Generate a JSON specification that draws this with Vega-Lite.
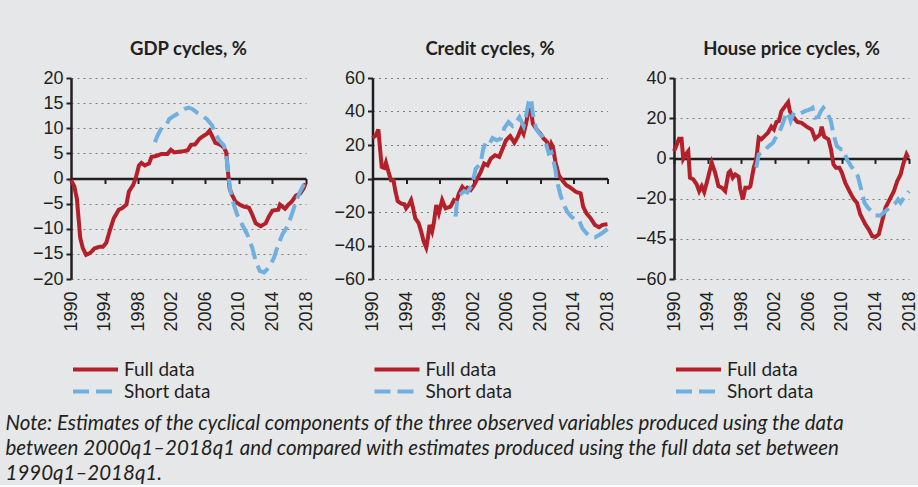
{
  "$schema": "https://vega.github.io/schema/vega-lite/v6.json",
  "background": "#e6e7e9",
  "padding": {"left": 5, "top": 39, "right": 0, "bottom": 0},
  "bounds": "flush",
  "spacing": 66.5,
  "title": {
    "text": ["Note: Estimates of the cyclical components of the three observed variables produced using the data", "between 2000q1–2018q1 and compared with estimates produced using the full data set between", "1990q1–2018q1."],
    "orient": "bottom", "anchor": "start", "frame": "group", "dx": -65.5, "font": "Lato", "fontStyle": "italic", "fontWeight": "normal",
    "fontSize": 20.5, "lineHeight": 25, "color": "#231f20", "offset": 12
  },
  "datasets": {
    "gdpFull": [
      {"s":"Full data","x":1990.0,"v":-0.3},{"s":"Full data","x":1990.4,"v":-1.6},{"s":"Full data","x":1990.7,"v":-4.0},{"s":"Full data","x":1990.9,"v":-7.9},{"s":"Full data","x":1991.1,"v":-11.8},{"s":"Full data","x":1991.4,"v":-13.8},{"s":"Full data","x":1991.8,"v":-15.2},{"s":"Full data","x":1992.3,"v":-14.8},{"s":"Full data","x":1992.8,"v":-13.9},{"s":"Full data","x":1993.4,"v":-13.6},{"s":"Full data","x":1993.8,"v":-13.6},{"s":"Full data","x":1994.2,"v":-12.8},{"s":"Full data","x":1994.6,"v":-10.5},{"s":"Full data","x":1995.1,"v":-7.9},{"s":"Full data","x":1995.7,"v":-6.2},{"s":"Full data","x":1996.1,"v":-5.9},{"s":"Full data","x":1996.6,"v":-5.2},{"s":"Full data","x":1996.9,"v":-2.6},{"s":"Full data","x":1997.4,"v":-1.3},{"s":"Full data","x":1997.7,"v":0.0},{"s":"Full data","x":1998.1,"v":2.6},{"s":"Full data","x":1998.4,"v":3.1},{"s":"Full data","x":1998.8,"v":2.6},{"s":"Full data","x":1999.3,"v":3.0},{"s":"Full data","x":1999.6,"v":4.3},{"s":"Full data","x":2000.2,"v":4.5},{"s":"Full data","x":2000.8,"v":4.9},{"s":"Full data","x":2001.5,"v":4.9},{"s":"Full data","x":2001.9,"v":5.7},{"s":"Full data","x":2002.3,"v":5.2},{"s":"Full data","x":2003.3,"v":5.4},{"s":"Full data","x":2003.9,"v":5.6},{"s":"Full data","x":2004.3,"v":6.7},{"s":"Full data","x":2004.8,"v":6.8},{"s":"Full data","x":2005.3,"v":7.9},{"s":"Full data","x":2005.8,"v":8.5},{"s":"Full data","x":2006.2,"v":8.9},{"s":"Full data","x":2006.5,"v":9.5},{"s":"Full data","x":2006.8,"v":8.5},{"s":"Full data","x":2007.2,"v":7.1},{"s":"Full data","x":2007.8,"v":6.7},{"s":"Full data","x":2008.2,"v":6.2},{"s":"Full data","x":2008.5,"v":5.2},{"s":"Full data","x":2008.7,"v":1.3},{"s":"Full data","x":2008.9,"v":-2.0},{"s":"Full data","x":2009.2,"v":-3.3},{"s":"Full data","x":2009.6,"v":-4.6},{"s":"Full data","x":2010.1,"v":-5.2},{"s":"Full data","x":2010.6,"v":-5.6},{"s":"Full data","x":2011.2,"v":-5.8},{"s":"Full data","x":2011.6,"v":-7.2},{"s":"Full data","x":2012.0,"v":-8.9},{"s":"Full data","x":2012.6,"v":-9.5},{"s":"Full data","x":2013.2,"v":-8.9},{"s":"Full data","x":2013.6,"v":-7.5},{"s":"Full data","x":2014.0,"v":-6.4},{"s":"Full data","x":2014.7,"v":-6.2},{"s":"Full data","x":2014.9,"v":-5.2},{"s":"Full data","x":2015.5,"v":-6.0},{"s":"Full data","x":2015.9,"v":-5.2},{"s":"Full data","x":2016.3,"v":-4.6},{"s":"Full data","x":2016.8,"v":-3.4},{"s":"Full data","x":2017.3,"v":-3.0},{"s":"Full data","x":2017.7,"v":-2.0},{"s":"Full data","x":2017.95,"v":-1.0}
    ],
    "gdpShort": [
      {"s":"Short data","x":2000.0,"v":7.2},{"s":"Short data","x":2000.3,"v":8.5},{"s":"Short data","x":2000.7,"v":9.8},{"s":"Short data","x":2001.3,"v":10.4},{"s":"Short data","x":2001.7,"v":11.8},{"s":"Short data","x":2002.3,"v":12.5},{"s":"Short data","x":2002.9,"v":13.1},{"s":"Short data","x":2003.5,"v":13.8},{"s":"Short data","x":2004.0,"v":14.1},{"s":"Short data","x":2004.5,"v":13.8},{"s":"Short data","x":2005.1,"v":13.0},{"s":"Short data","x":2005.6,"v":12.5},{"s":"Short data","x":2006.2,"v":11.8},{"s":"Short data","x":2006.8,"v":10.6},{"s":"Short data","x":2007.2,"v":8.9},{"s":"Short data","x":2007.7,"v":7.5},{"s":"Short data","x":2008.2,"v":6.6},{"s":"Short data","x":2008.5,"v":4.9},{"s":"Short data","x":2008.7,"v":1.3},{"s":"Short data","x":2009.0,"v":-2.6},{"s":"Short data","x":2009.4,"v":-5.2},{"s":"Short data","x":2009.8,"v":-7.2},{"s":"Short data","x":2010.4,"v":-9.2},{"s":"Short data","x":2011.0,"v":-11.1},{"s":"Short data","x":2011.6,"v":-13.8},{"s":"Short data","x":2012.0,"v":-16.4},{"s":"Short data","x":2012.5,"v":-18.4},{"s":"Short data","x":2013.0,"v":-18.7},{"s":"Short data","x":2013.6,"v":-17.7},{"s":"Short data","x":2014.2,"v":-15.7},{"s":"Short data","x":2014.7,"v":-13.1},{"s":"Short data","x":2015.2,"v":-11.1},{"s":"Short data","x":2015.8,"v":-9.5},{"s":"Short data","x":2016.3,"v":-7.2},{"s":"Short data","x":2016.8,"v":-4.6},{"s":"Short data","x":2017.3,"v":-2.6},{"s":"Short data","x":2017.9,"v":-0.7}
    ],
    "credFull": [
      {"s":"Full data","x":1990.0,"v":24.2},{"s":"Full data","x":1990.4,"v":25.7},{"s":"Full data","x":1990.7,"v":29.3},{"s":"Full data","x":1990.9,"v":17.8},{"s":"Full data","x":1991.1,"v":6.9},{"s":"Full data","x":1991.4,"v":6.3},{"s":"Full data","x":1991.6,"v":9.5},{"s":"Full data","x":1991.9,"v":4.0},{"s":"Full data","x":1992.2,"v":-1.0},{"s":"Full data","x":1992.5,"v":-1.0},{"s":"Full data","x":1992.7,"v":-6.9},{"s":"Full data","x":1993.0,"v":-13.5},{"s":"Full data","x":1993.4,"v":-14.9},{"s":"Full data","x":1993.8,"v":-15.4},{"s":"Full data","x":1994.0,"v":-17.8},{"s":"Full data","x":1994.3,"v":-15.8},{"s":"Full data","x":1994.6,"v":-12.9},{"s":"Full data","x":1994.8,"v":-16.8},{"s":"Full data","x":1995.1,"v":-23.8},{"s":"Full data","x":1995.5,"v":-26.7},{"s":"Full data","x":1995.8,"v":-31.7},{"s":"Full data","x":1996.1,"v":-37.6},{"s":"Full data","x":1996.4,"v":-41.2},{"s":"Full data","x":1996.6,"v":-35.6},{"s":"Full data","x":1996.8,"v":-27.7},{"s":"Full data","x":1997.1,"v":-31.7},{"s":"Full data","x":1997.3,"v":-26.7},{"s":"Full data","x":1997.6,"v":-15.8},{"s":"Full data","x":1997.9,"v":-20.8},{"s":"Full data","x":1998.3,"v":-12.9},{"s":"Full data","x":1998.7,"v":-17.8},{"s":"Full data","x":1999.3,"v":-16.8},{"s":"Full data","x":1999.7,"v":-12.9},{"s":"Full data","x":2000.0,"v":-13.9},{"s":"Full data","x":2000.3,"v":-8.9},{"s":"Full data","x":2000.7,"v":-5.0},{"s":"Full data","x":2001.0,"v":-6.9},{"s":"Full data","x":2001.3,"v":-5.5},{"s":"Full data","x":2001.7,"v":-6.9},{"s":"Full data","x":2002.1,"v":-4.0},{"s":"Full data","x":2002.5,"v":0.0},{"s":"Full data","x":2002.9,"v":4.0},{"s":"Full data","x":2003.3,"v":8.9},{"s":"Full data","x":2003.7,"v":7.9},{"s":"Full data","x":2004.1,"v":11.9},{"s":"Full data","x":2004.6,"v":13.9},{"s":"Full data","x":2005.1,"v":12.9},{"s":"Full data","x":2005.5,"v":17.8},{"s":"Full data","x":2005.9,"v":22.8},{"s":"Full data","x":2006.4,"v":25.3},{"s":"Full data","x":2006.9,"v":21.4},{"s":"Full data","x":2007.3,"v":24.8},{"s":"Full data","x":2007.7,"v":29.7},{"s":"Full data","x":2008.0,"v":26.7},{"s":"Full data","x":2008.3,"v":32.7},{"s":"Full data","x":2008.6,"v":41.2},{"s":"Full data","x":2008.9,"v":40.6},{"s":"Full data","x":2009.1,"v":32.7},{"s":"Full data","x":2009.5,"v":29.7},{"s":"Full data","x":2010.0,"v":26.7},{"s":"Full data","x":2010.4,"v":23.8},{"s":"Full data","x":2010.8,"v":21.8},{"s":"Full data","x":2011.0,"v":15.8},{"s":"Full data","x":2011.3,"v":20.8},{"s":"Full data","x":2011.5,"v":18.8},{"s":"Full data","x":2011.8,"v":9.9},{"s":"Full data","x":2012.2,"v":2.0},{"s":"Full data","x":2012.6,"v":-1.0},{"s":"Full data","x":2013.1,"v":-4.0},{"s":"Full data","x":2013.6,"v":-5.5},{"s":"Full data","x":2014.2,"v":-7.9},{"s":"Full data","x":2014.8,"v":-8.9},{"s":"Full data","x":2015.1,"v":-16.8},{"s":"Full data","x":2015.5,"v":-20.8},{"s":"Full data","x":2016.0,"v":-23.8},{"s":"Full data","x":2016.5,"v":-27.7},{"s":"Full data","x":2017.0,"v":-29.1},{"s":"Full data","x":2017.4,"v":-27.7},{"s":"Full data","x":2018.0,"v":-27.3}
    ],
    "credShort": [
      {"s":"Short data","x":1999.9,"v":-22.8},{"s":"Short data","x":2000.1,"v":-11.9},{"s":"Short data","x":2000.5,"v":-9.5},{"s":"Short data","x":2000.9,"v":-7.5},{"s":"Short data","x":2001.3,"v":-8.3},{"s":"Short data","x":2001.7,"v":-5.0},{"s":"Short data","x":2002.0,"v":-1.0},{"s":"Short data","x":2002.3,"v":5.9},{"s":"Short data","x":2002.7,"v":7.9},{"s":"Short data","x":2002.9,"v":9.9},{"s":"Short data","x":2003.2,"v":17.8},{"s":"Short data","x":2003.5,"v":21.4},{"s":"Short data","x":2003.9,"v":20.2},{"s":"Short data","x":2004.3,"v":24.2},{"s":"Short data","x":2004.8,"v":22.8},{"s":"Short data","x":2005.3,"v":23.8},{"s":"Short data","x":2005.7,"v":30.1},{"s":"Short data","x":2006.2,"v":33.7},{"s":"Short data","x":2006.7,"v":31.3},{"s":"Short data","x":2007.1,"v":33.3},{"s":"Short data","x":2007.5,"v":36.6},{"s":"Short data","x":2008.0,"v":31.3},{"s":"Short data","x":2008.3,"v":37.6},{"s":"Short data","x":2008.6,"v":45.5},{"s":"Short data","x":2008.9,"v":47.9},{"s":"Short data","x":2009.1,"v":38.6},{"s":"Short data","x":2009.5,"v":29.7},{"s":"Short data","x":2009.9,"v":26.7},{"s":"Short data","x":2010.3,"v":24.8},{"s":"Short data","x":2010.7,"v":20.2},{"s":"Short data","x":2011.0,"v":14.9},{"s":"Short data","x":2011.3,"v":15.8},{"s":"Short data","x":2011.5,"v":11.9},{"s":"Short data","x":2011.8,"v":5.0},{"s":"Short data","x":2012.0,"v":-2.0},{"s":"Short data","x":2012.4,"v":-9.9},{"s":"Short data","x":2012.8,"v":-15.8},{"s":"Short data","x":2013.2,"v":-19.8},{"s":"Short data","x":2013.7,"v":-22.8},{"s":"Short data","x":2014.2,"v":-24.8},{"s":"Short data","x":2014.6,"v":-24.8},{"s":"Short data","x":2015.0,"v":-29.7},{"s":"Short data","x":2015.5,"v":-32.7},{"s":"Short data","x":2016.0,"v":-34.7},{"s":"Short data","x":2016.5,"v":-35.2},{"s":"Short data","x":2017.0,"v":-33.7},{"s":"Short data","x":2017.5,"v":-32.1},{"s":"Short data","x":2018.0,"v":-30.1}
    ],
    "houseFull": [
      {"s":"Full data","x":1990.0,"v":3.6},{"s":"Full data","x":1990.3,"v":6.5},{"s":"Full data","x":1990.6,"v":9.8},{"s":"Full data","x":1990.9,"v":9.8},{"s":"Full data","x":1991.1,"v":-0.2},{"s":"Full data","x":1991.4,"v":2.0},{"s":"Full data","x":1991.7,"v":3.6},{"s":"Full data","x":1991.9,"v":-9.6},{"s":"Full data","x":1992.3,"v":-10.4},{"s":"Full data","x":1992.7,"v":-12.9},{"s":"Full data","x":1993.0,"v":-16.3},{"s":"Full data","x":1993.3,"v":-13.8},{"s":"Full data","x":1993.6,"v":-16.7},{"s":"Full data","x":1993.9,"v":-12.1},{"s":"Full data","x":1994.2,"v":-7.1},{"s":"Full data","x":1994.5,"v":-2.2},{"s":"Full data","x":1994.9,"v":-7.1},{"s":"Full data","x":1995.3,"v":-13.8},{"s":"Full data","x":1995.7,"v":-14.6},{"s":"Full data","x":1996.1,"v":-16.3},{"s":"Full data","x":1996.5,"v":-7.1},{"s":"Full data","x":1996.7,"v":-6.3},{"s":"Full data","x":1997.0,"v":-9.6},{"s":"Full data","x":1997.3,"v":-8.0},{"s":"Full data","x":1997.7,"v":-9.1},{"s":"Full data","x":1997.9,"v":-15.4},{"s":"Full data","x":1998.2,"v":-20.4},{"s":"Full data","x":1998.5,"v":-14.6},{"s":"Full data","x":1998.9,"v":-14.6},{"s":"Full data","x":1999.1,"v":-13.8},{"s":"Full data","x":1999.5,"v":-4.6},{"s":"Full data","x":1999.8,"v":-0.5},{"s":"Full data","x":2000.1,"v":10.3},{"s":"Full data","x":2000.4,"v":9.5},{"s":"Full data","x":2000.8,"v":11.1},{"s":"Full data","x":2001.2,"v":12.8},{"s":"Full data","x":2001.6,"v":15.8},{"s":"Full data","x":2001.9,"v":14.4},{"s":"Full data","x":2002.2,"v":18.1},{"s":"Full data","x":2002.5,"v":18.6},{"s":"Full data","x":2002.8,"v":23.5},{"s":"Full data","x":2003.2,"v":25.7},{"s":"Full data","x":2003.6,"v":28.0},{"s":"Full data","x":2003.8,"v":23.5},{"s":"Full data","x":2004.2,"v":20.7},{"s":"Full data","x":2004.7,"v":18.1},{"s":"Full data","x":2005.2,"v":17.7},{"s":"Full data","x":2005.8,"v":15.8},{"s":"Full data","x":2006.4,"v":14.4},{"s":"Full data","x":2006.8,"v":9.8},{"s":"Full data","x":2007.4,"v":11.9},{"s":"Full data","x":2007.6,"v":15.8},{"s":"Full data","x":2007.9,"v":10.8},{"s":"Full data","x":2008.4,"v":9.5},{"s":"Full data","x":2008.7,"v":4.5},{"s":"Full data","x":2009.0,"v":-3.0},{"s":"Full data","x":2009.3,"v":-4.6},{"s":"Full data","x":2009.7,"v":-4.6},{"s":"Full data","x":2010.0,"v":-7.1},{"s":"Full data","x":2010.4,"v":-12.1},{"s":"Full data","x":2011.0,"v":-17.1},{"s":"Full data","x":2011.4,"v":-20.1},{"s":"Full data","x":2011.8,"v":-22.1},{"s":"Full data","x":2012.2,"v":-27.9},{"s":"Full data","x":2012.8,"v":-32.8},{"s":"Full data","x":2013.2,"v":-35.3},{"s":"Full data","x":2013.6,"v":-38.6},{"s":"Full data","x":2014.0,"v":-39.1},{"s":"Full data","x":2014.4,"v":-37.8},{"s":"Full data","x":2014.8,"v":-31.2},{"s":"Full data","x":2015.2,"v":-24.5},{"s":"Full data","x":2015.7,"v":-20.4},{"s":"Full data","x":2016.2,"v":-16.3},{"s":"Full data","x":2016.6,"v":-11.3},{"s":"Full data","x":2017.0,"v":-8.0},{"s":"Full data","x":2017.3,"v":-3.0},{"s":"Full data","x":2017.7,"v":2.0},{"s":"Full data","x":2017.9,"v":0.3}
    ],
    "houseShort": [
      {"s":"Short data","x":1999.8,"v":-4.6},{"s":"Short data","x":2000.1,"v":2.0},{"s":"Short data","x":2000.4,"v":2.8},{"s":"Short data","x":2000.8,"v":3.6},{"s":"Short data","x":2001.1,"v":5.3},{"s":"Short data","x":2001.4,"v":6.5},{"s":"Short data","x":2001.8,"v":7.8},{"s":"Short data","x":2002.2,"v":11.1},{"s":"Short data","x":2002.6,"v":13.6},{"s":"Short data","x":2003.0,"v":17.7},{"s":"Short data","x":2003.4,"v":23.1},{"s":"Short data","x":2003.7,"v":21.1},{"s":"Short data","x":2003.9,"v":18.6},{"s":"Short data","x":2004.2,"v":21.9},{"s":"Short data","x":2004.6,"v":21.1},{"s":"Short data","x":2005.1,"v":22.4},{"s":"Short data","x":2005.6,"v":23.5},{"s":"Short data","x":2006.2,"v":24.4},{"s":"Short data","x":2006.5,"v":25.2},{"s":"Short data","x":2006.8,"v":20.2},{"s":"Short data","x":2007.2,"v":20.7},{"s":"Short data","x":2007.5,"v":23.5},{"s":"Short data","x":2007.8,"v":25.2},{"s":"Short data","x":2008.2,"v":23.1},{"s":"Short data","x":2008.7,"v":18.6},{"s":"Short data","x":2009.0,"v":11.9},{"s":"Short data","x":2009.4,"v":6.1},{"s":"Short data","x":2009.9,"v":4.5},{"s":"Short data","x":2010.2,"v":4.5},{"s":"Short data","x":2010.6,"v":-0.5},{"s":"Short data","x":2011.1,"v":-3.8},{"s":"Short data","x":2011.5,"v":-6.3},{"s":"Short data","x":2011.9,"v":-8.8},{"s":"Short data","x":2012.3,"v":-15.4},{"s":"Short data","x":2012.7,"v":-22.1},{"s":"Short data","x":2013.1,"v":-24.5},{"s":"Short data","x":2013.5,"v":-26.2},{"s":"Short data","x":2014.0,"v":-28.4},{"s":"Short data","x":2014.6,"v":-28.4},{"s":"Short data","x":2015.2,"v":-26.2},{"s":"Short data","x":2015.7,"v":-24.5},{"s":"Short data","x":2016.0,"v":-23.4},{"s":"Short data","x":2016.4,"v":-22.1},{"s":"Short data","x":2016.7,"v":-20.4},{"s":"Short data","x":2017.0,"v":-22.1},{"s":"Short data","x":2017.3,"v":-20.1},{"s":"Short data","x":2017.7,"v":-17.9},{"s":"Short data","x":2018.0,"v":-16.3}
    ]
  },
  "hconcat": [
    {
      "width": 235, "height": 201,
      "title": "GDP cycles, %",
      "resolve": {"axis": {"x": "independent"}},
      "encoding": {
        "y": {"field": "v", "type": "quantitative", "scale": {"domain": [-20, 20], "nice": false},
              "axis": {"values": [-20, -15, -10, -5, 0, 5, 10, 15, 20], "labelOverlap": false, "labelFlush": false, "title": null}},
        "color": {"field": "s", "type": "nominal", "scale": {"domain": ["Full data", "Short data"], "range": ["#b3202a", "#6fb0e0"]}, "legend": {"title": null}},
        "strokeDash": {"field": "s", "type": "nominal", "scale": {"domain": ["Full data", "Short data"], "range": [[1, 0], [16, 7]]}, "legend": {"title": null}}
      },
      "layer": [
        {
          "data": {"name": "gdpFull"},
          "mark": {"type": "line", "strokeWidth": 4},
          "encoding": {
            "x": {"field": "x", "type": "quantitative", "scale": {"domain": [1990, 2018], "nice": false, "zero": false},
                  "axis": {"orient": "bottom", "values": [1990, 1994, 1998, 2002, 2006, 2010, 2014, 2018], "format": "d", "labelAngle": 270, "labelFlush": false, "labelOverlap": false, "domain": false, "ticks": false, "grid": false, "labelPadding": 12, "title": null}}
          }
        },
        {
          "data": {"name": "gdpShort"},
          "mark": {"type": "line", "strokeWidth": 4},
          "encoding": {
            "x": {"field": "x", "type": "quantitative",
                  "axis": {"orient": "bottom", "offset": -100.5, "values": [1990, 1994, 1998, 2002, 2006, 2010, 2014, 2018], "labels": false, "grid": false, "title": null}}
          }
        }
      ]
    },
    {
      "width": 235, "height": 201,
      "title": "Credit cycles, %",
      "resolve": {"axis": {"x": "independent"}},
      "encoding": {
        "y": {"field": "v", "type": "quantitative", "scale": {"domain": [-60, 60], "nice": false},
              "axis": {"values": [-60, -40, -20, 0, 20, 40, 60], "labelOverlap": false, "labelFlush": false, "title": null}},
        "color": {"field": "s", "type": "nominal", "scale": {"domain": ["Full data", "Short data"], "range": ["#b3202a", "#6fb0e0"]}, "legend": {"title": null}},
        "strokeDash": {"field": "s", "type": "nominal", "scale": {"domain": ["Full data", "Short data"], "range": [[1, 0], [16, 7]]}, "legend": {"title": null}}
      },
      "layer": [
        {
          "data": {"name": "credFull"},
          "mark": {"type": "line", "strokeWidth": 4},
          "encoding": {
            "x": {"field": "x", "type": "quantitative", "scale": {"domain": [1990, 2018], "nice": false, "zero": false},
                  "axis": {"orient": "bottom", "values": [1990, 1994, 1998, 2002, 2006, 2010, 2014, 2018], "format": "d", "labelAngle": 270, "labelFlush": false, "labelOverlap": false, "domain": false, "ticks": false, "grid": false, "labelPadding": 12, "title": null}}
          }
        },
        {
          "data": {"name": "credShort"},
          "mark": {"type": "line", "strokeWidth": 4},
          "encoding": {
            "x": {"field": "x", "type": "quantitative",
                  "axis": {"orient": "bottom", "offset": -100.5, "values": [1990, 1994, 1998, 2002, 2006, 2010, 2014, 2018], "labels": false, "grid": false, "title": null}}
          }
        }
      ]
    },
    {
      "width": 235, "height": 201,
      "title": "House price cycles, %",
      "resolve": {"axis": {"x": "independent"}},
      "encoding": {
        "y": {"field": "v", "type": "quantitative", "scale": {"domain": [-60, 40], "nice": false},
              "axis": {"values": [-60, -40, -20, 0, 20, 40], "labelExpr": "datum.value == -40 ? '−45' : datum.label", "labelOverlap": false, "labelFlush": false, "title": null}},
        "color": {"field": "s", "type": "nominal", "scale": {"domain": ["Full data", "Short data"], "range": ["#b3202a", "#6fb0e0"]}, "legend": {"title": null}},
        "strokeDash": {"field": "s", "type": "nominal", "scale": {"domain": ["Full data", "Short data"], "range": [[1, 0], [16, 7]]}, "legend": {"title": null}}
      },
      "layer": [
        {
          "data": {"name": "houseFull"},
          "mark": {"type": "line", "strokeWidth": 4},
          "encoding": {
            "x": {"field": "x", "type": "quantitative", "scale": {"domain": [1990, 2018], "nice": false, "zero": false},
                  "axis": {"orient": "bottom", "values": [1990, 1994, 1998, 2002, 2006, 2010, 2014, 2018], "format": "d", "labelAngle": 270, "labelFlush": false, "labelOverlap": false, "domain": false, "ticks": false, "grid": false, "labelPadding": 12, "title": null}}
          }
        },
        {
          "data": {"name": "houseShort"},
          "mark": {"type": "line", "strokeWidth": 4},
          "encoding": {
            "x": {"field": "x", "type": "quantitative",
                  "axis": {"orient": "bottom", "offset": -120.6, "values": [1990, 1994, 1998, 2002, 2006, 2010, 2014, 2018], "labels": false, "grid": false, "title": null}}
          }
        }
      ]
    }
  ],
  "resolve": {"scale": {"color": "independent", "strokeDash": "independent"}},
  "config": {
    "view": {"stroke": null},
    "font": "Liberation Sans",
    "axis": {
      "labelFont": "Liberation Sans", "labelFontSize": 18, "labelColor": "#231f20",
      "domainColor": "#231f20", "domainWidth": 2.5, "tickColor": "#231f20", "tickWidth": 2, "tickSize": 5,
      "gridColor": "#7f7f7f", "gridDash": [2, 4], "gridWidth": 1
    },
    "axisY": {"labelPadding": 3, "labelOverlap": false},
    "title": {"font": "Lato", "fontSize": 18.5, "fontWeight": "bold", "color": "#231f20", "offset": 11},
    "legend": {
      "orient": "bottom", "direction": "vertical", "symbolType": "stroke", "symbolSize": 2025,
      "symbolStrokeWidth": 4, "labelFont": "Lato", "labelFontSize": 19, "labelColor": "#231f20",
      "clipHeight": 19, "rowPadding": 2, "offset": 28
    }
  }
}
